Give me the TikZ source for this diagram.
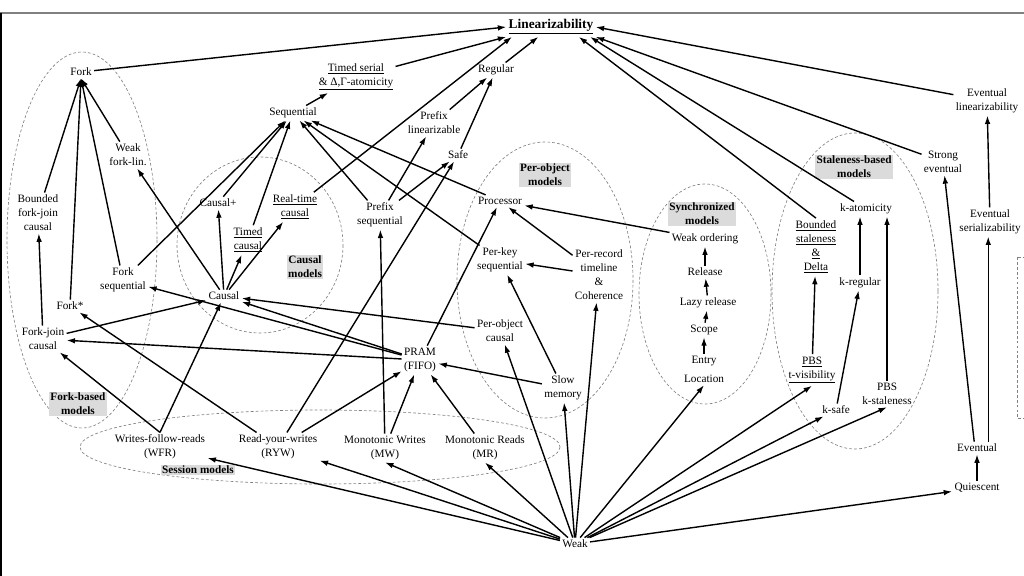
\documentclass[tikz,border=0pt]{standalone}
\usepackage{fontspec}
\setmainfont{Liberation Serif}
\usetikzlibrary{arrows.meta}

\begin{document}
\begin{tikzpicture}[
            x = 0.025cm, y = -0.025cm,
            every node/.style={font=\fontsize{8}{10}\selectfont, align=center, inner sep=1.5pt},
            line/.style={line width = .035cm},
            implies/.style={line, -{Latex[length=6pt, width=4pt]}},
            cloud/.style={gray, line width=.45pt, dash pattern=on 2pt off 1.5pt},
            model/.style={fill=gray!28, font=\fontsize{8}{10}\selectfont\bfseries, inner sep=1pt},
            ]

        \useasboundingbox (0,0) rectangle (1024,576);
        \draw[gray, line width=1pt] (0,13) -- (1024,13);
        \draw[line width=1pt] (1,13) -- (1,576);

        \draw[cloud] (82,240) ellipse [x radius=75, y radius=188];
        \draw[cloud] (260,245) ellipse [x radius=83, y radius=88];
        \draw[cloud] (545,280) ellipse [x radius=88, y radius=138];
        \draw[cloud] (705,294) ellipse [x radius=66, y radius=110];
        \draw[cloud] (855,291) ellipse [x radius=83, y radius=158];
        \draw[cloud] (320,447) ellipse [x radius=240, y radius=37];
        \draw[cloud] (1017,257) rectangle (1040,418);

        \node (lin) at (551,27) {\fontsize{9.5}{11}\selectfont\bfseries\underline{Linearizability}};
        \node (fork) at (81,72) {Fork};
        \node (tser) at (356,77) {\underline{Timed serial}\\\underline{\& Δ,Γ-atomicity}};
        \node (regular) at (496,70) {Regular};
        \node (seq) at (293,113) {Sequential};
        \node (plin) at (434,123) {Prefix\\linearizable};
        \node (wfl) at (128,155) {Weak\\fork-lin.};
        \node (safe) at (458,155) {Safe};
        \node[model] (perobj) at (545,175) {Per-object\\models};
        \node (strev) at (943,162) {Strong\\eventual};
        \node (evlin) at (987,101) {Eventual\\linearizability};
        \node[model] (stale) at (854,167) {Staleness-based\\models};
        \node (bfjc) at (38,213) {Bounded\\fork-join\\causal};
        \node (causalp) at (218,203) {Causal+};
        \node (rtc) at (295,207) {\underline{Real-time}\\\underline{causal}};
        \node (pseq) at (380,215) {Prefix\\sequential};
        \node (proc) at (500,201) {Processor};
        \node[model] (sync) at (702,214) {Synchronized\\models};
        \node (wo) at (705,239) {Weak ordering};
        \node (bsd) at (816,247) {\underline{Bounded}\\\underline{staleness}\\\underline{\&}\\\underline{Delta}};
        \node (katom) at (866,209) {k-atomicity};
        \node (evser) at (990,222) {Eventual\\serializability};
        \node (tc) at (248,240) {\underline{Timed}\\\underline{causal}};
        \node[model] (causalm) at (305,267) {Causal\\models};
        \node (pks) at (500,260) {Per-key\\sequential};
        \node (prt) at (599,275) {Per-record\\timeline\\\&\\Coherence};
        \node (release) at (705,272) {Release};
        \node (kreg) at (860,283) {k-regular};
        \node (fseq) at (123,280) {Fork\\sequential};
        \node (forkstar) at (70,306) {Fork*};
        \node (causal) at (224,296) {Causal};
        \node (lazy) at (708,303) {Lazy release};
        \node (scope) at (704,330) {Scope};
        \node (fjc) at (43,339) {Fork-join\\causal};
        \node (poc) at (500,331) {Per-object\\causal};
        \node (pram) at (420,360) {PRAM\\(FIFO)};
        \node (entry) at (704,361) {Entry};
        \node (location) at (704,379) {Location};
        \node (slow) at (563,388) {Slow\\memory};
        \node (pbst) at (812,370) {\underline{PBS}\\\underline{t-visibility}};
        \node[model] (forkm) at (78,404) {Fork-based\\models};
        \node (pbsk) at (887,394) {PBS\\k-staleness};
        \node (ksafe) at (836,410) {k-safe};
        \node (wfr) at (160,447) {Writes-follow-reads\\(WFR)};
        \node (ryw) at (278,447) {Read-your-writes\\(RYW)};
        \node (mw) at (385,448) {Monotonic Writes\\(MW)};
        \node (mr) at (485,448) {Monotonic Reads\\(MR)};
        \node[model] (session) at (198,470) {Session models};
        \node (eventual) at (977,448) {Eventual};
        \node (quiescent) at (977,488) {Quiescent};
        \node (weak) at (575,544) {Weak};

        \draw[implies] (fork) -- (lin.west);
        \draw[implies] (tser) -- (lin.south west);
        \draw[implies] (rtc) -- ([xshift=4pt]lin.south west);
        \draw[implies] (regular) -- (lin);
        \draw[implies] (evlin) -- (lin.east);
        \draw[implies] (strev) -- (lin.south east);
        \draw[implies] (katom) -- ([xshift=-4pt]lin.south east);
        \draw[implies] (bsd.north) -- ([xshift=-12pt]lin.south east);

        \draw[implies] (bfjc) -- (fork.south);
        \draw[implies] (forkstar) -- (fork.south);
        \draw[implies] (fseq) -- (fork.south);
        \draw[implies] (wfl) -- (fork.south);

        \draw[implies] (seq) -- (tser);
        \draw[implies] (plin) -- (regular);
        \draw[implies] (safe) -- (regular);
        \draw[implies] (fseq) -- (seq);
        \draw[implies] (causalp) -- (seq);
        \draw[implies] (tc) -- (seq);
        \draw[implies] (pseq) -- (seq);
        \draw[implies] (proc) -- (seq);
        \draw[implies] (pks) -- (seq);
        \draw[implies] (pseq) -- (plin);
        \draw[implies] (pseq) -- (safe);

        \draw[implies] (causal) -- (wfl);
        \draw[implies] (causal) -- (causalp);
        \draw[implies] (causal) -- (tc);
        \draw[implies] (causal) -- (rtc);
        \draw[implies] (fjc) -- (bfjc);
        \draw[implies] (fjc) -- (causal);
        \draw[implies] (wfr.north) -- (fjc);
        \draw[implies] (wfr.north) -- (causal);
        \draw[implies] (poc) -- (causal);
        \draw[implies] (pram) -- (causal);
        \draw[implies] (pram) -- (fseq);
        \draw[implies] (pram) -- (fjc);
        \draw[implies] (ryw) -- (forkstar);
        \draw[implies] (ryw) -- (safe);
        \draw[implies] (ryw) -- (pram);
        \draw[implies] (mw) -- (pseq);
        \draw[implies] (mw) -- (pram);
        \draw[implies] (mr) -- (pram);
        \draw[implies] (slow) -- (pram);

        \draw[implies] (pram) -- (proc);
        \draw[implies] (prt) -- (proc);
        \draw[implies] (wo) -- (proc);
        \draw[implies] (prt) -- (pks);
        \draw[implies] (slow) -- (pks);

        \draw[implies] (entry) -- (scope);
        \draw[implies] (scope) -- (lazy);
        \draw[implies] (lazy) -- (release);
        \draw[implies] (release) -- (wo);

        \draw[implies] (pbst) -- (bsd);
        \draw[implies] (ksafe) -- (kreg);
        \draw[implies] (kreg.north) -- (kreg.north |- katom.south);
        \draw[implies] (pbsk.north) -- (pbsk.north |- katom.south);

        \draw[implies] (evser) -- (evlin);
        \draw[implies] ([xshift=8pt]eventual.north) -- ([xshift=8pt]eventual.north |- evser.south);
        \draw[implies] ([xshift=-2pt]eventual.north) -- (strev);
        \draw[implies] (quiescent) -- (eventual);

        \draw[implies] (weak) -- (wfr);
        \draw[implies] (weak) -- (ryw);
        \draw[implies] (weak) -- (mw.south);
        \draw[implies] (weak) -- (mr.south);
        \draw[implies] (weak) -- (poc);
        \draw[implies] (weak) -- (slow);
        \draw[implies] (weak) -- (prt);
        \draw[implies] (weak) -- (location.south);
        \draw[implies] (weak) -- (pbst.south);
        \draw[implies] (weak) -- (ksafe);
        \draw[implies] (weak) -- (pbsk.south);
        \draw[implies] (weak) -- (quiescent);

    \end{tikzpicture}
\end{document}
